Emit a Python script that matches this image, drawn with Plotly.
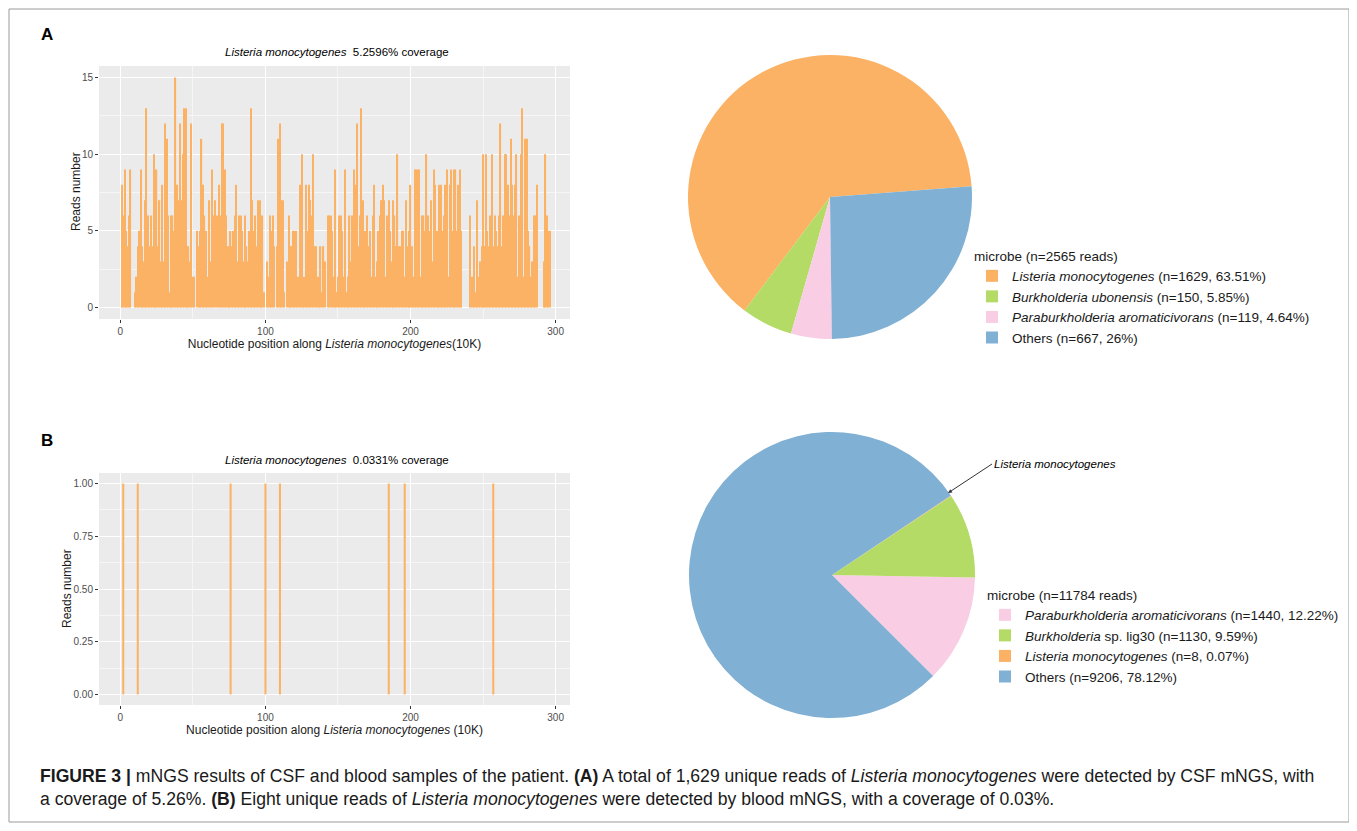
import plotly.graph_objects as go

# The page is drawn with an 8px body margin, so the figure is sized to fill the
# window from that offset and all layout positions are given in window pixels.
OFF = 8
W, H = 1357 - OFF, 831 - OFF
FONT = "Liberation Sans, Arial, sans-serif"

# ---------------- data ----------------
a_pos = list(range(1, 297))
a_reads = [
    8, 6, 9, 5, 4, 6, 9, 0, 0, 1,
    2, 4, 5, 9, 4, 3, 7, 13, 6, 4,
    6, 4, 10, 8, 9, 4, 7, 3, 8, 3,
    12, 11, 6, 1, 6, 6, 5, 15, 8, 7,
    12, 7, 10, 13, 13, 4, 4, 3, 12, 2,
    2, 0, 5, 4, 5, 11, 8, 6, 5, 2,
    7, 3, 9, 6, 7, 0, 6, 8, 6, 12,
    12, 9, 6, 4, 4, 5, 4, 5, 6, 8,
    3, 6, 6, 5, 3, 6, 4, 3, 5, 13,
    7, 5, 6, 4, 7, 7, 3, 6, 1, 0,
    3, 2, 6, 5, 6, 4, 0, 4, 11, 12,
    7, 7, 1, 0, 3, 6, 4, 4, 5, 5,
    5, 2, 2, 8, 10, 1, 2, 8, 5, 8,
    7, 6, 10, 4, 4, 2, 1, 4, 1, 4,
    3, 0, 6, 6, 6, 5, 2, 9, 1, 2,
    6, 6, 5, 2, 9, 1, 2, 6, 3, 6,
    9, 8, 12, 4, 6, 13, 7, 2, 5, 6,
    4, 5, 2, 6, 8, 2, 3, 5, 6, 7,
    8, 7, 2, 6, 7, 5, 3, 7, 6, 4,
    10, 4, 4, 5, 5, 2, 7, 4, 5, 8,
    4, 2, 9, 9, 9, 9, 2, 6, 6, 5,
    10, 6, 5, 7, 3, 9, 8, 5, 2, 8,
    8, 5, 6, 8, 9, 2, 8, 9, 5, 9,
    9, 5, 8, 9, 5, 0, 0, 0, 0, 0,
    6, 2, 2, 4, 1, 7, 2, 3, 4, 10,
    4, 10, 5, 4, 6, 10, 4, 6, 5, 4,
    6, 12, 4, 6, 10, 10, 8, 6, 11, 8,
    6, 8, 10, 2, 6, 10, 13, 2, 11, 11,
    5, 4, 2, 3, 6, 6, 8, 0, 0, 0,
    0, 3, 10, 6, 5, 5,
]

b_pos = [2, 12, 76, 100, 110, 185, 196, 257]
b_reads = [1, 1, 1, 1, 1, 1, 1, 1]

pie_a_labels = [
    "<i>Listeria monocytogenes</i> (n=1629, 63.51%)",
    "<i>Burkholderia ubonensis</i> (n=150, 5.85%)",
    "<i>Paraburkholderia aromaticivorans</i> (n=119, 4.64%)",
    "Others (n=667, 26%)",
]
pie_a_values = [1629, 150, 119, 667]
pie_a_colors = ["#FBB264", "#B3DB66", "#F9CDE3", "#80B0D3"]

pie_b_labels = [
    "<i>Paraburkholderia aromaticivorans</i> (n=1440, 12.22%)",
    "<i>Burkholderia</i> sp. lig30 (n=1130, 9.59%)",
    "<i>Listeria monocytogenes</i> (n=8, 0.07%)",
    "Others (n=9206, 78.12%)",
]
pie_b_values = [1440, 1130, 8, 9206]
pie_b_colors = ["#F9CDE3", "#B3DB66", "#FBB264", "#80B0D3"]

x_ticks = [0, 100, 200, 300]

# ---------------- helpers ----------------
def px_x(p):
    return (p - OFF) / W

def px_y(p):
    return 1 - (p - OFF) / H

BAR_COLOR = "#FBB264"
PANEL = "#EBEBEB"

fig = go.Figure()

fig.add_trace(go.Bar(x=a_pos, y=a_reads, marker=dict(color=BAR_COLOR, line=dict(width=0)),
                     xaxis="x", yaxis="y", showlegend=False, width=0.85))
fig.add_trace(go.Bar(x=b_pos, y=b_reads, marker=dict(color=BAR_COLOR, line=dict(width=0)),
                     xaxis="x2", yaxis="y2", showlegend=False, width=1.4))

fig.add_trace(go.Pie(labels=pie_a_labels, values=pie_a_values, sort=False,
                     direction="counterclockwise", rotation=217,
                     marker=dict(colors=pie_a_colors, line=dict(width=0)),
                     textinfo="none", hoverinfo="label",
                     domain=dict(x=[px_x(688), px_x(972)], y=[px_y(339), px_y(55)]),
                     legend="legend"))
fig.add_trace(go.Pie(labels=pie_b_labels, values=pie_b_values, sort=False,
                     direction="counterclockwise", rotation=91,
                     marker=dict(colors=pie_b_colors, line=dict(width=0)),
                     textinfo="none", hoverinfo="label",
                     domain=dict(x=[px_x(689), px_x(975)], y=[px_y(718), px_y(432)]),
                     legend="legend2"))

tick_font = dict(family=FONT, size=10, color="#4D4D4D")
title_font = dict(family=FONT, size=12, color="#1A1A1A")

def xaxis_cfg(anchor, title):
    return dict(domain=[px_x(99), px_x(570)], anchor=anchor, range=[-14.7, 309.9],
                tickvals=x_ticks, ticks="outside", ticklen=3, tickcolor="#333333",
                tickfont=tick_font, showgrid=True, gridcolor="white", gridwidth=1.1,
                minor=dict(dtick=50, tick0=0, showgrid=True, gridcolor="#F6F6F6", gridwidth=0.5),
                zeroline=False, showline=False, fixedrange=True,
                title=dict(text=title, font=title_font, standoff=3))

layout = dict(
    width=W, height=H, margin=dict(l=0, r=0, t=0, b=0),
    paper_bgcolor="white", plot_bgcolor=PANEL, bargap=0.1,
    font=dict(family=FONT, size=12, color="#1A1A1A"),
    xaxis=xaxis_cfg("y", "Nucleotide position along <i>Listeria monocytogenes</i>(10K)"),
    yaxis=dict(domain=[px_y(319), px_y(66)], anchor="x", range=[-0.75, 15.75],
               tickvals=[0, 5, 10, 15], ticks="outside", ticklen=3, tickcolor="#333333",
               tickfont=tick_font, showgrid=True, gridcolor="white", gridwidth=1.1,
               minor=dict(dtick=2.5, tick0=0, showgrid=True, gridcolor="#F6F6F6", gridwidth=0.5),
               zeroline=False),
    xaxis2=xaxis_cfg("y2", "Nucleotide position along <i>Listeria monocytogenes</i> (10K)"),
    yaxis2=dict(domain=[px_y(705), px_y(473)], anchor="x2", range=[-0.05, 1.05],
                tickvals=[0, 0.25, 0.5, 0.75, 1.0], tickformat=".2f", ticks="outside", ticklen=3,
                tickcolor="#333333", tickfont=tick_font, showgrid=True, gridcolor="white", gridwidth=1.1,
                minor=dict(dtick=0.125, tick0=0, showgrid=True, gridcolor="#F6F6F6", gridwidth=0.5),
                zeroline=False),
    legend=dict(x=px_x(972), y=px_y(243), xanchor="left", yanchor="top",
                title=dict(text="microbe (n=2565 reads)", font=dict(family=FONT, size=13.5)),
                font=dict(family=FONT, size=13.5, color="#1A1A1A"), bgcolor="rgba(0,0,0,0)",
                tracegroupgap=0, itemwidth=30),
    legend2=dict(x=px_x(985), y=px_y(582), xanchor="left", yanchor="top",
                 title=dict(text="microbe (n=11784 reads)", font=dict(family=FONT, size=13.5)),
                 font=dict(family=FONT, size=13.5, color="#1A1A1A"), bgcolor="rgba(0,0,0,0)",
                 tracegroupgap=0, itemwidth=30),
)
fig.update_layout(**layout)

annotations = [
    dict(text="<b>A</b>", x=px_x(47), y=px_y(35), xref="paper", yref="paper", xanchor="center",
         yanchor="middle", showarrow=False, font=dict(family=FONT, size=17, color="black")),
    dict(text="<b>B</b>", x=px_x(47), y=px_y(440), xref="paper", yref="paper", xanchor="center",
         yanchor="middle", showarrow=False, font=dict(family=FONT, size=17, color="black")),
    dict(text="<i>Listeria monocytogenes</i>  5.2596% coverage", x=px_x(337), y=px_y(52),
         xref="paper", yref="paper", xanchor="center", yanchor="middle", showarrow=False,
         font=dict(family=FONT, size=11.5, color="black")),
    dict(text="<i>Listeria monocytogenes</i>  0.0331% coverage", x=px_x(337), y=px_y(460),
         xref="paper", yref="paper", xanchor="center", yanchor="middle", showarrow=False,
         font=dict(family=FONT, size=11.5, color="black")),
    dict(text="Reads number", x=px_x(76), y=px_y(192), xref="paper", yref="paper", textangle=-90,
         xanchor="center", yanchor="middle", showarrow=False, font=title_font),
    dict(text="Reads number", x=px_x(67), y=px_y(589), xref="paper", yref="paper", textangle=-90,
         xanchor="center", yanchor="middle", showarrow=False, font=title_font),
    dict(text="<i>Listeria monocytogenes</i>", x=px_x(948), y=px_y(493), xref="paper", yref="paper",
         showarrow=True, ax=44, ay=-29, xanchor="left", yanchor="middle",
         arrowhead=2, arrowsize=0.8, arrowwidth=1, arrowcolor="#333333",
         font=dict(family=FONT, size=11.5, color="black")),
    dict(text=("<b>FIGURE 3 |</b> mNGS results of CSF and blood samples of the patient. <b>(A)</b> A total of 1,629 "
               "unique reads of <i>Listeria monocytogenes</i> were detected by CSF mNGS, with<br>"
               "a coverage of 5.26%. <b>(B)</b> Eight unique reads of <i>Listeria monocytogenes</i> were detected "
               "by blood mNGS, with a coverage of 0.03%."),
         x=px_x(38), y=px_y(764), xref="paper", yref="paper", xanchor="left", yanchor="top",
         align="left", showarrow=False, font=dict(family=FONT, size=17.6, color="#1A1A1A")),
]
fig.update_layout(annotations=annotations)

fig.add_shape(type="rect", xref="paper", yref="paper", x0=px_x(9), x1=px_x(1349),
              y0=px_y(822), y1=px_y(9), line=dict(color="#9A9A9A", width=1), layer="below")

fig.write_html("out.html")
